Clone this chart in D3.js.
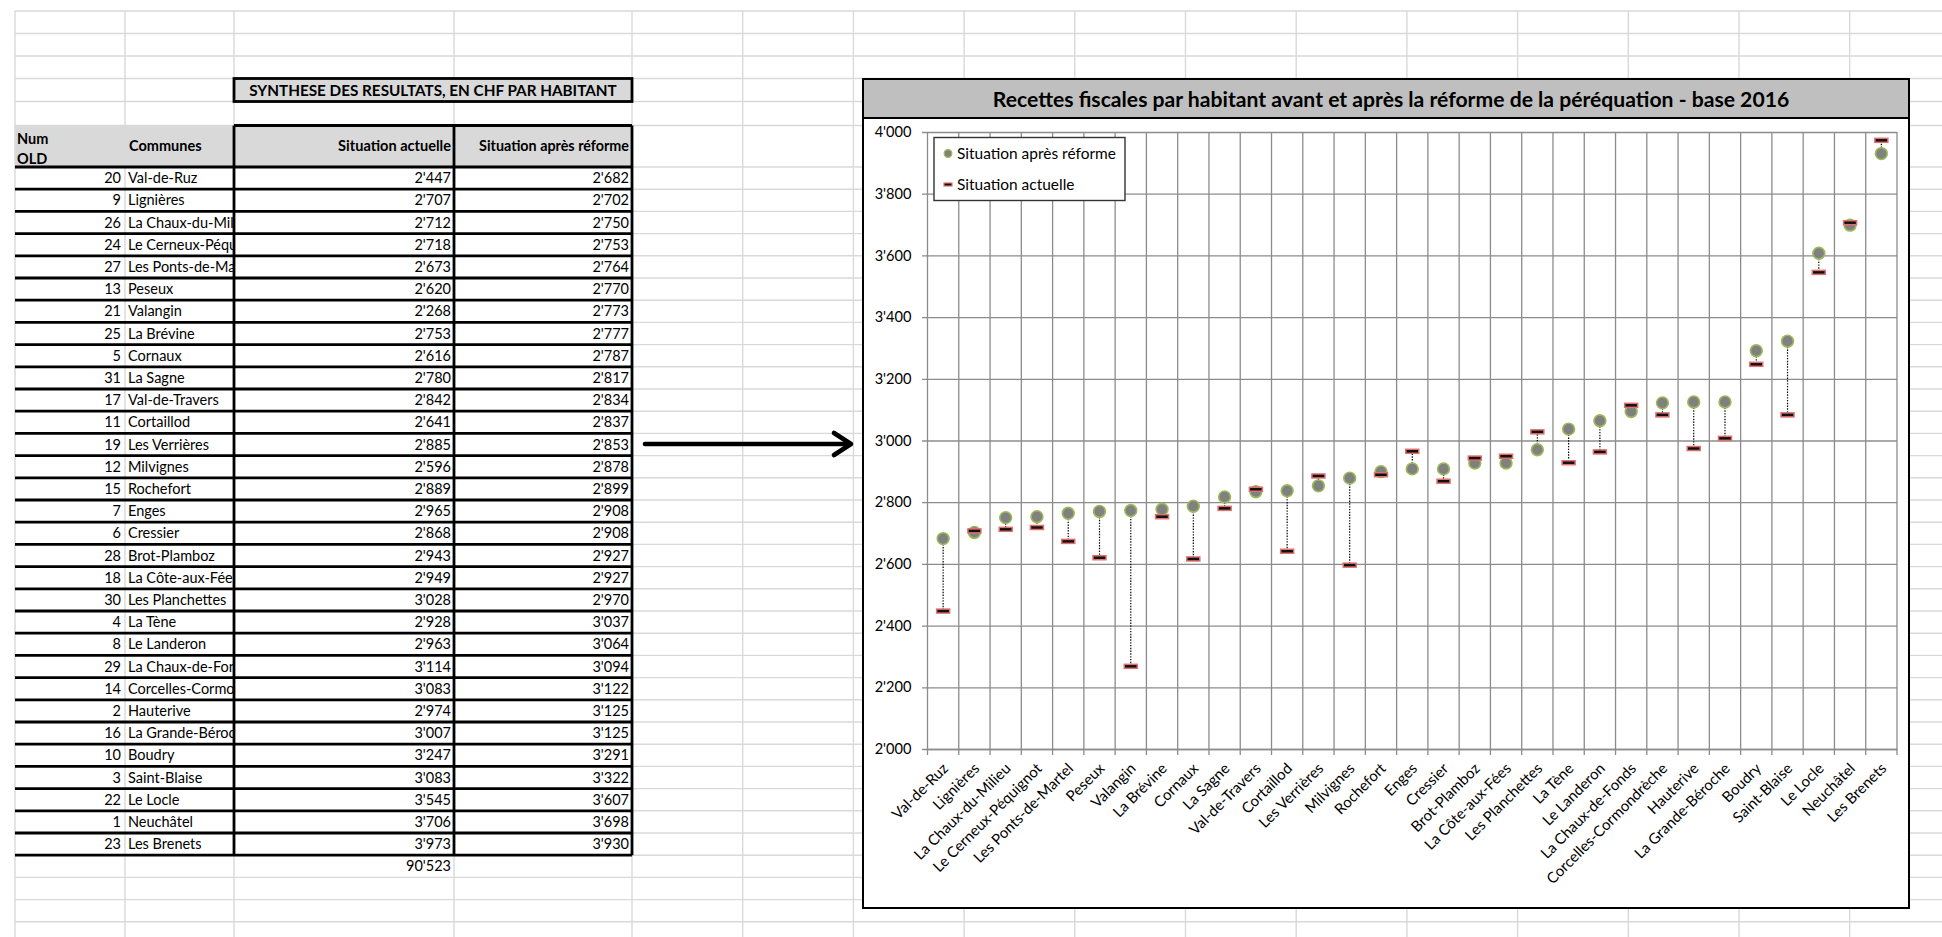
<!DOCTYPE html>
<html>
<head>
<meta charset="utf-8">
<script src="https://cdn.jsdelivr.net/npm/d3@7"></script>
<style>
  html, body { margin: 0; padding: 0; background: #fff; }
  svg { display: block; font-family: Lato, "Open Sans", sans-serif; }
</style>
</head>
<body>
<svg id="sheet" width="1942" height="937"></svg>
<script>
// Communes, in order of tax revenue after the reform
const communes = [
  "Val-de-Ruz", "Lignières", "La Chaux-du-Milieu", "Le Cerneux-Péquignot",
  "Les Ponts-de-Martel", "Peseux", "Valangin", "La Brévine", "Cornaux",
  "La Sagne", "Val-de-Travers", "Cortaillod", "Les Verrières", "Milvignes",
  "Rochefort", "Enges", "Cressier", "Brot-Plamboz", "La Côte-aux-Fées",
  "Les Planchettes", "La Tène", "Le Landeron", "La Chaux-de-Fonds",
  "Corcelles-Cormondrèche", "Hauterive", "La Grande-Béroche", "Boudry",
  "Saint-Blaise", "Le Locle", "Neuchâtel", "Les Brenets"
];
const numOld = [20, 9, 26, 24, 27, 13, 21, 25, 5, 31, 17, 11, 19, 12, 15, 7,
  6, 28, 18, 30, 4, 8, 29, 14, 2, 16, 10, 3, 22, 1, 23];
// CHF per inhabitant
const situationActuelle = [2447, 2707, 2712, 2718, 2673, 2620, 2268, 2753, 2616,
  2780, 2842, 2641, 2885, 2596, 2889, 2965, 2868, 2943, 2949, 3028, 2928, 2963,
  3114, 3083, 2974, 3007, 3247, 3083, 3545, 3706, 3973];
const situationApres = [2682, 2702, 2750, 2753, 2764, 2770, 2773, 2777, 2787,
  2817, 2834, 2837, 2853, 2878, 2899, 2908, 2908, 2927, 2927, 2970, 3037, 3064,
  3094, 3122, 3125, 3125, 3291, 3322, 3607, 3698, 3930];
const yTickValues = [2000, 2200, 2400, 2600, 2800, 3000, 3200, 3400, 3600, 3800, 4000];

const tableTitle = "SYNTHESE DES RESULTATS, EN CHF PAR HABITANT";
const chartTitle = "Recettes fiscales par habitant avant et après la réforme de la péréquation - base 2016";
const seriesNames = ["Situation après réforme", "Situation actuelle"];

// Swiss number format: 2'447
const fmt = d3.formatLocale({ decimal: ".", thousands: "'", grouping: [3], currency: ["", ""] }).format(",d");

// scale a text element's font so it spans the given width
function fitWidth(sel, target) {
  const w = sel.node().getComputedTextLength();
  sel.attr("font-size", +sel.attr("font-size") * target / w);
  return +sel.attr("font-size");
}

const svg = d3.select("#sheet");
const W = 1942, H = 937;

// ---------- spreadsheet grid ----------
const rowH = 22.2;
const colEdges = [15, 125, 234, 454, 632];
for (let x = 632 + 110.7; x < W + 5; x += 110.7) colEdges.push(x);

// row boundaries: five plain rows, a double-height header row, then data rows
const rowEdges = [11, 33.5, 56, 78.5, 101.5, 125.5];
let yy = 167;
while (yy < H + rowH) { rowEdges.push(yy); yy += rowH; }

const headerTop = rowEdges[5], headerBot = rowEdges[6];
const titleTop = rowEdges[3], titleBot = rowEdges[4];
const dataTop = headerBot;

const grid = svg.append("g").attr("stroke", "#d9d9d9").attr("stroke-width", 1.4);
colEdges.forEach(x => grid.append("line").attr("x1", x).attr("x2", x).attr("y1", rowEdges[0]).attr("y2", H));
rowEdges.forEach(y => grid.append("line").attr("x1", colEdges[0]).attr("x2", W).attr("y1", y).attr("y2", y));

// ---------- summary table ----------
const tbl = svg.append("g");
const cA = colEdges[0], cB = colEdges[1], cC = colEdges[2], cD = colEdges[3], cE = colEdges[4];
const dataBot = dataTop + rowH * communes.length;

tbl.append("rect").attr("x", cC).attr("y", titleTop).attr("width", cE - cC).attr("height", titleBot - titleTop)
  .attr("fill", "#d9d9d9");
tbl.append("rect").attr("x", cA).attr("y", headerTop).attr("width", cE - cA).attr("height", headerBot - headerTop)
  .attr("fill", "#d9d9d9");
tbl.append("rect").attr("x", cA + 1).attr("y", dataTop).attr("width", cE - cA - 1).attr("height", dataBot - dataTop)
  .attr("fill", "#fff");
tbl.append("line").attr("x1", cB).attr("x2", cB).attr("y1", dataTop).attr("y2", dataBot)
  .attr("stroke", "#d9d9d9").attr("stroke-width", 1.4);

const txt = (g, x, y, s, anchor, bold, size) => g.append("text").attr("x", x).attr("y", y)
  .attr("text-anchor", anchor || "start").attr("font-size", size || 14.5).attr("font-weight", bold ? 700 : 400)
  .attr("fill", "#000").text(s);

fitWidth(txt(tbl, (cC + cE) / 2, (titleTop + titleBot) / 2 + 5.5, tableTitle, "middle", true, 15), 368);
txt(tbl, cA + 2, headerTop + 18, "Num", "start", true);
txt(tbl, cA + 2, headerTop + 38.5, "OLD", "start", true);
txt(tbl, cB + 4, (headerTop + headerBot) / 2 + 5, "Communes", "start", true);
fitWidth(txt(tbl, cD - 3, (headerTop + headerBot) / 2 + 5, "Situation actuelle", "end", true), 113);
fitWidth(txt(tbl, cE - 3, (headerTop + headerBot) / 2 + 5, "Situation après réforme", "end", true), 150);

svg.append("clipPath").attr("id", "colB").append("rect")
  .attr("x", cB).attr("y", dataTop).attr("width", cC - cB - 1).attr("height", dataBot - dataTop);
const names = tbl.append("g").attr("clip-path", "url(#colB)");

communes.forEach((c, i) => {
  const yc = dataTop + rowH * i + rowH / 2 + 5;
  txt(tbl, cB - 4, yc, numOld[i], "end");
  txt(names, cB + 3, yc, c, "start");
  txt(tbl, cD - 3, yc, fmt(situationActuelle[i]), "end");
  txt(tbl, cE - 3, yc, fmt(situationApres[i]), "end");
});
txt(tbl, cD - 3, dataBot + rowH / 2 + 5, fmt(d3.sum(situationActuelle)), "end");

// heavy borders
const thick = tbl.append("g").attr("stroke", "#000").attr("stroke-width", 2.8).attr("fill", "none");
thick.append("rect").attr("x", cC).attr("y", titleTop).attr("width", cE - cC).attr("height", titleBot - titleTop);
thick.append("line").attr("x1", cC).attr("x2", cE).attr("y1", headerTop).attr("y2", headerTop);
for (let i = 0; i <= communes.length; i++) {
  const y = dataTop + rowH * i;
  thick.append("line").attr("x1", cA).attr("x2", cE).attr("y1", y).attr("y2", y);
}
[cC, cD, cE].forEach(x => thick.append("line").attr("x1", x).attr("x2", x).attr("y1", headerTop).attr("y2", dataBot));

// arrow pointing to the chart
const arrow = svg.append("g").attr("stroke", "#000").attr("stroke-width", 4.6)
  .attr("fill", "none").attr("stroke-linecap", "round").attr("stroke-linejoin", "round");
arrow.append("line").attr("x1", 645).attr("x2", 849).attr("y1", 444).attr("y2", 444);
arrow.append("polyline").attr("points", "834,433 851,444 834,455");

// ---------- chart ----------
const box = { x: 863, y: 79, w: 1909 - 863, h: 908 - 79, titleH: 39 };
const plot = { left: 927.5, right: 1897, top: 132, bottom: 749 };

const chart = svg.append("g");
chart.append("rect").attr("x", box.x).attr("y", box.y).attr("width", box.w).attr("height", box.h)
  .attr("fill", "#fff");
chart.append("rect").attr("x", box.x).attr("y", box.y).attr("width", box.w).attr("height", box.titleH)
  .attr("fill", "#bfbfbf");
chart.append("line").attr("x1", box.x).attr("x2", box.x + box.w).attr("y1", box.y + box.titleH).attr("y2", box.y + box.titleH)
  .attr("stroke", "#000").attr("stroke-width", 1.8);
chart.append("rect").attr("x", box.x).attr("y", box.y).attr("width", box.w).attr("height", box.h)
  .attr("fill", "none").attr("stroke", "#000").attr("stroke-width", 2);

const title = chart.append("text").attr("x", 1391).attr("y", 106.5)
  .attr("text-anchor", "middle").attr("font-weight", 700).attr("font-size", 18).text(chartTitle);
fitWidth(title, 797);

const x = d3.scaleBand().domain(communes).range([plot.left, plot.right]).padding(0);
const y = d3.scaleLinear().domain([2000, 4000]).range([plot.bottom, plot.top]);

// horizontal gridlines and y axis
const yAxis = d3.axisLeft(y).tickValues(yTickValues).tickFormat(fmt)
  .tickSize(-(plot.right - plot.left)).tickPadding(16);
const gy = chart.append("g").attr("transform", `translate(${plot.left},0)`).call(yAxis);
gy.select(".domain").remove();
gy.selectAll(".tick line").attr("stroke", "#8c8c8c").attr("stroke-width", 1.3).attr("x1", -5.5);
gy.selectAll(".tick text").attr("font-size", 14.6).attr("font-family", "Lato, sans-serif").attr("fill", "#000");

// vertical gridlines at category boundaries
const bounds = communes.map(c => x(c)).concat([plot.right]);
chart.append("g").selectAll("line").data(bounds).join("line")
  .attr("x1", d => d).attr("x2", d => d).attr("y1", plot.top).attr("y2", plot.bottom + 6)
  .attr("stroke", "#8c8c8c").attr("stroke-width", 1.3);

// category labels, slanted
const xAxis = d3.axisBottom(x).tickSize(0).tickPadding(0);
const gx = chart.append("g").attr("transform", `translate(0,${plot.bottom})`).call(xAxis);
gx.select(".domain").attr("stroke", "#8c8c8c").attr("stroke-width", 1.3);
gx.selectAll(".tick text")
  .attr("font-size", 15).attr("font-family", "Lato, sans-serif").attr("fill", "#000")
  .attr("text-anchor", "end")
  .attr("transform", "translate(-1.5,13) rotate(-45)")
  .attr("x", 0).attr("y", 0).attr("dy", "0.7em");

const rows = communes.map((c, i) => ({ c, before: situationActuelle[i], after: situationApres[i] }));
const cx = d => x(d.c) + x.bandwidth() / 2;

// high-low connector
chart.append("g").selectAll("line").data(rows).join("line")
  .attr("x1", cx).attr("x2", cx)
  .attr("y1", d => y(d.after)).attr("y2", d => y(d.before))
  .attr("stroke", "#000").attr("stroke-width", 1.2).attr("stroke-dasharray", "1.4,1.4");

// after reform: gray circles with green rim
chart.append("g").selectAll("circle").data(rows).join("circle")
  .attr("cx", cx).attr("cy", d => y(d.after)).attr("r", 5.9)
  .attr("fill", "#808080").attr("stroke", "#9bbb59").attr("stroke-width", 1.6);

// current situation: dash markers
chart.append("g").selectAll("rect").data(rows).join("rect")
  .attr("x", d => cx(d) - 6.5).attr("y", d => y(d.before) - 2).attr("width", 13).attr("height", 4)
  .attr("fill", "#111").attr("stroke", "#e06f6f").attr("stroke-width", 1.5);

// legend
const lg = chart.append("g");
lg.append("rect").attr("x", 934).attr("y", 137.5).attr("width", 191).attr("height", 63)
  .attr("fill", "#fff").attr("stroke", "#333").attr("stroke-width", 1.4);
lg.append("circle").attr("cx", 948).attr("cy", 153.5).attr("r", 3.8)
  .attr("fill", "#808080").attr("stroke", "#9bbb59").attr("stroke-width", 1.3);
lg.append("rect").attr("x", 944).attr("y", 183).attr("width", 8).attr("height", 3)
  .attr("fill", "#111").attr("stroke", "#e06f6f").attr("stroke-width", 1.2);
const lt = lg.append("text").attr("x", 957).attr("y", 159).attr("font-size", 15.5).text(seriesNames[0]);
const legendSize = fitWidth(lt, 159);
lg.append("text").attr("x", 957).attr("y", 189.5).attr("font-size", legendSize).text(seriesNames[1]);
</script>
</body>
</html>
